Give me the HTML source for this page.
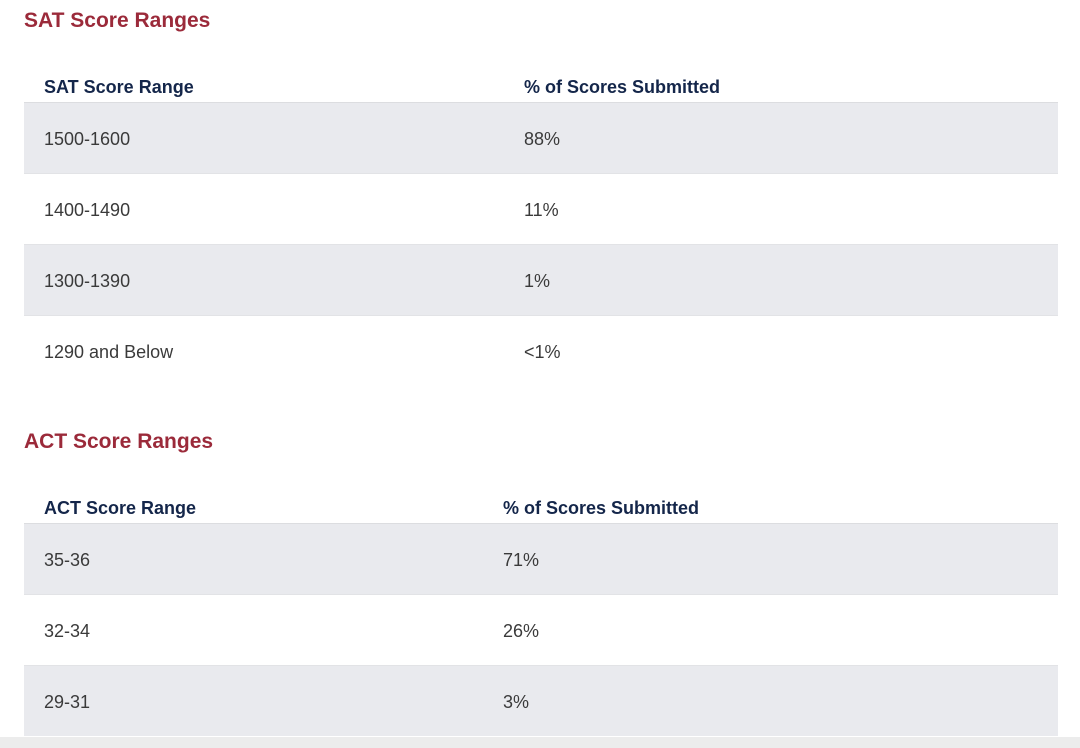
<!DOCTYPE html>
<html><head><meta charset="utf-8"><style>
body{margin:0;width:1080px;height:748px;background:#fff;font-family:"Liberation Sans",sans-serif;position:relative;overflow:hidden}
.t{position:absolute;left:24px;color:#9b2a3a;font-weight:bold;font-size:21px;margin:0}
.tbl{position:absolute;left:24px;width:1034px}
.hd{height:30px;position:relative;border-bottom:1px solid #dcdde0}
.hd span{position:absolute;top:5px;font-family:"Liberation Sans Narrow","Liberation Sans",sans-serif;font-weight:bold;font-size:18px;color:#14264a}
.r{height:70px;position:relative;border-bottom:1px solid #e2e3e6}
.r.g{background:#e9eaee}
.r span{position:absolute;top:26px;font-size:18px;color:#3a3a3a}
.c1{left:20px}
.shade{position:absolute;left:0;top:737px;width:1080px;height:11px;background:#ececec}
</style></head><body>
<h2 class="t" style="top:9px">SAT Score Ranges</h2>
<div class="tbl" style="top:72px">
<div class="hd"><span class="c1">SAT Score Range</span><span style="left:500px">% of Scores Submitted</span></div>
<div class="r g"><span class="c1">1500-1600</span><span style="left:500px">88%</span></div>
<div class="r"><span class="c1">1400-1490</span><span style="left:500px">11%</span></div>
<div class="r g"><span class="c1">1300-1390</span><span style="left:500px">1%</span></div>
<div class="r" style="border-bottom:none"><span class="c1">1290 and Below</span><span style="left:500px">&lt;1%</span></div>
</div>
<h2 class="t" style="top:430px">ACT Score Ranges</h2>
<div class="tbl" style="top:493px">
<div class="hd"><span class="c1">ACT Score Range</span><span style="left:479px">% of Scores Submitted</span></div>
<div class="r g"><span class="c1">35-36</span><span style="left:479px">71%</span></div>
<div class="r"><span class="c1">32-34</span><span style="left:479px">26%</span></div>
<div class="r g" style="border-bottom:none"><span class="c1">29-31</span><span style="left:479px">3%</span></div>
</div>
<div class="shade"></div>
</body></html>
